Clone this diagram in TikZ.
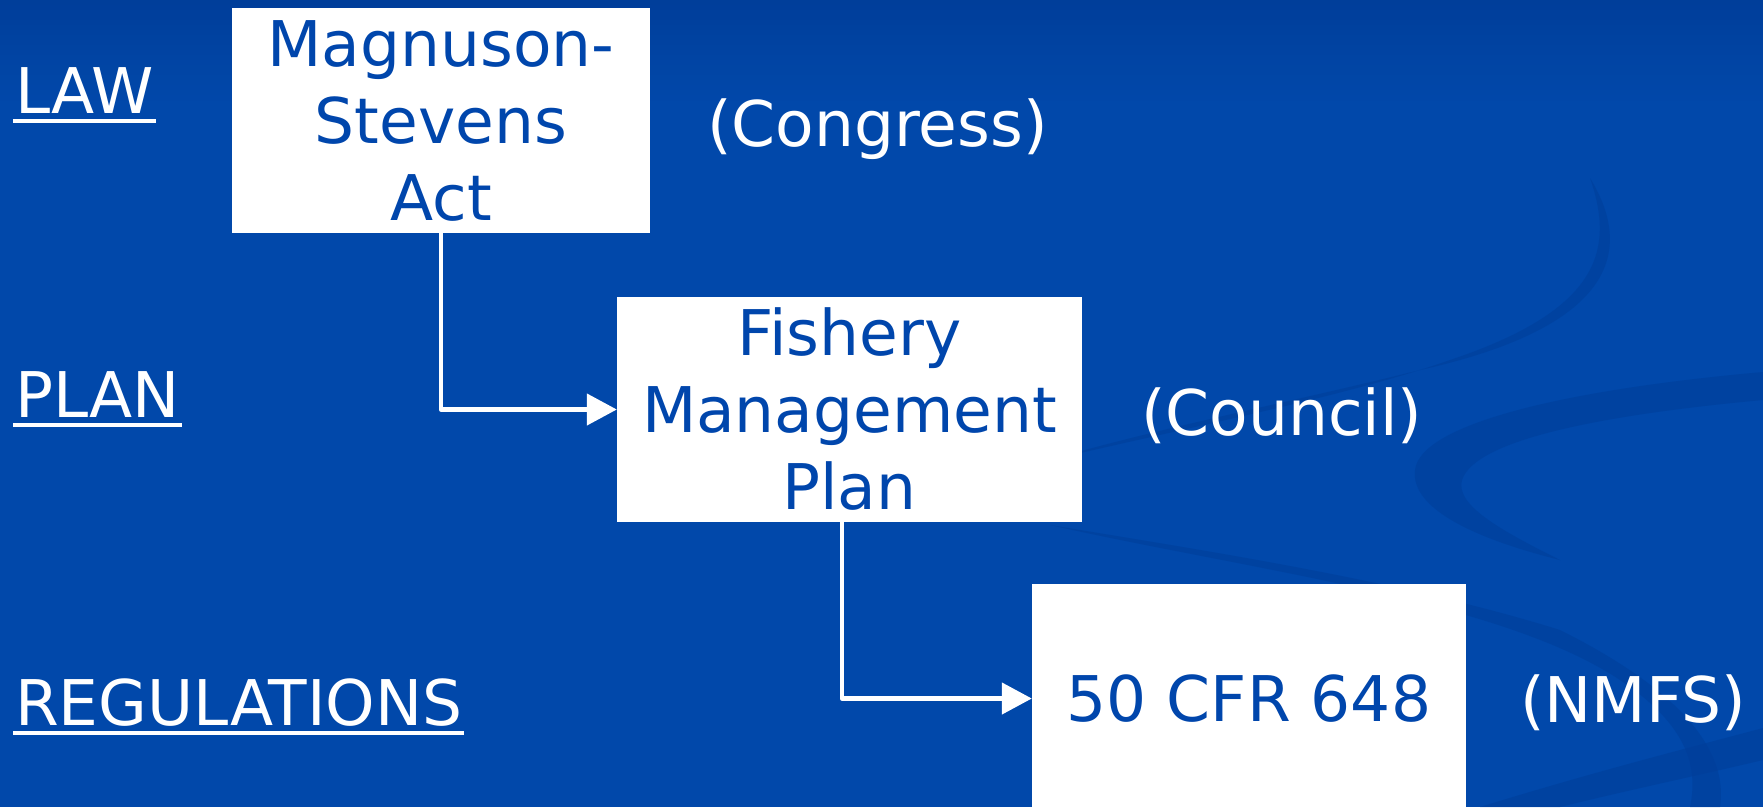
\documentclass[tikz,border=0pt]{standalone}
\usepackage{fontspec}
\setmainfont{DejaVu Sans}
\usetikzlibrary{arrows.meta}
\definecolor{slideblue}{RGB}{1,72,170}
\definecolor{slidetop}{RGB}{0,62,154}
\definecolor{swirlblue}{RGB}{0,62,154}
\definecolor{boxtext}{RGB}{0,70,172}
\tikzset{
  box/.style={fill=white, text=boxtext, align=center, inner sep=0pt,
    font=\fontsize{63}{77}\selectfont},
  level/.style={text=white, anchor=base west, inner sep=0pt,
    font=\fontsize{63}{77}\selectfont},
  flow/.style={white, line width=4.5pt, line join=round,
    -{Triangle[length=30pt,width=31pt]}},
  uline/.style={white, line width=3.5pt},
  swirl/.style={fill=swirlblue, fill opacity=0.6},
}

\begin{document}
\begin{tikzpicture}[x=1pt,y=-1pt]
    % slide background
    \fill[slideblue] (0,0) rectangle (1763,807);
    \foreach \i in {0,...,19}
        \fill[slidetop!\the\numexpr100-5*\i\relax!slideblue] (0,5*\i) rectangle (1763,5*\i+5.5);
    \fill[swirl] (1590,178) .. controls (1640,260) and (1600,330) .. (1420,370)
        .. controls (1300,400) and (1150,430) .. (1050,460)
        .. controls (1200,425) and (1350,395) .. (1450,360)
        .. controls (1600,310) and (1615,250) .. (1590,178) -- cycle;
    \fill[swirl] (1763,372) .. controls (1560,390) and (1420,425) .. (1415,470)
        .. controls (1410,510) and (1480,540) .. (1560,560)
        .. controls (1500,530) and (1455,505) .. (1462,480)
        .. controls (1475,440) and (1600,415) .. (1763,400) -- cycle;
    \fill[swirl] (1050,525) .. controls (1250,570) and (1500,600) .. (1620,680)
        .. controls (1680,720) and (1700,760) .. (1690,807) -- (1720,807)
        .. controls (1730,740) and (1660,680) .. (1560,630)
        .. controls (1400,580) and (1200,550) .. (1050,525) -- cycle;
    \fill[swirl] (1480,807) .. controls (1600,770) and (1700,745) .. (1763,728)
        -- (1763,760) .. controls (1700,775) and (1620,792) .. (1560,807) -- cycle;
    \useasboundingbox (0,0) rectangle (1763,807);

    % boxes
    \node[box, minimum width=418pt, minimum height=225pt] (msa) at (441,120.5) {Magnuson-\\Stevens\\Act};
    \node[box, minimum width=465pt, minimum height=225pt] (fmp) at (849.5,409.5) {Fishery\\Management\\Plan};
    \node[box, minimum width=434pt, minimum height=229pt] (cfr) at (1249,698.5) {50 CFR 648};

    % levels and bodies
    \node[level] (law) at (15,113) {LAW};
    \node[level] (plan) at (15,417) {PLAN};
    \node[level] (regs) at (15,725) {REGULATIONS};
    \node[level] (congress) at (707,146) {(Congress)};
    \node[level] (council) at (1141,435) {(Council)};
    \node[level] (nmfs) at (1520,722) {(NMFS)};
    \foreach \n in {law,plan,regs}
        \draw[uline] ([shift={(-2,8)}]\n.base west) -- ([shift={(2,8)}]\n.base east);

    \draw[flow] (msa.south) |- (fmp.west);
    \draw[flow] ([xshift=-7.5pt]fmp.south) |- (cfr.west);
\end{tikzpicture}
\end{document}
